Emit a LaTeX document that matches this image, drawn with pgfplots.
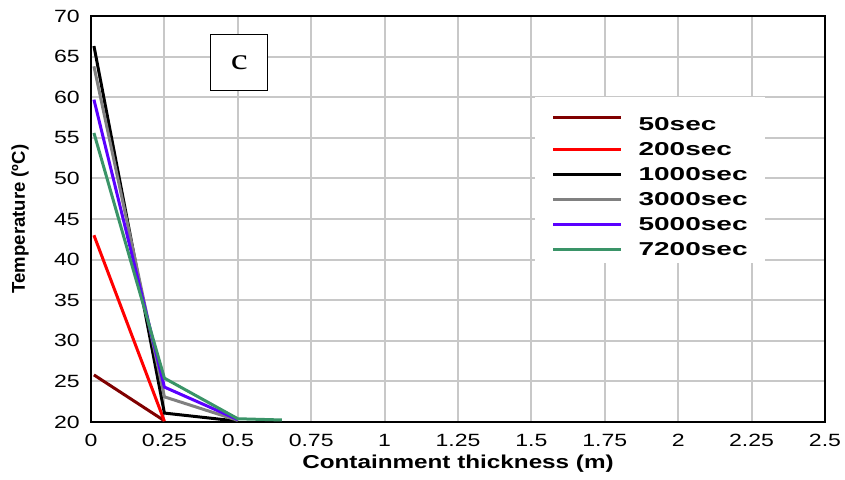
\documentclass[border=0pt]{standalone}
\usepackage{pgfplots}
\pgfplotsset{compat=1.18}
\usepackage{fontspec}
\setmainfont[FakeStretch=1.3]{Liberation Sans}
\newfontfamily\legfont[FakeStretch=1.5]{Liberation Sans}
\newfontfamily\ylabfont{Liberation Sans}
\newfontfamily\serfont[FakeStretch=1.3]{Liberation Serif}
\definecolor{cDarkRed}{HTML}{800000}
\definecolor{cRed}{HTML}{FF0000}
\definecolor{cGray}{HTML}{808080}
\definecolor{cViolet}{HTML}{5A00FF}
\definecolor{cGreen}{HTML}{3A9468}
\definecolor{cGrid}{HTML}{C8C8C8}
\begin{document}
\begin{tikzpicture}
\begin{axis}[
  at={(0,0)}, anchor=south west,
  scale only axis, width=550.5pt, height=304.5pt,
  xmin=0, xmax=2.5, ymin=20, ymax=70,
  xtick={0,0.25,0.5,0.75,1,1.25,1.5,1.75,2,2.25,2.5},
  xticklabels={0,0.25,0.5,0.75,1,1.25,1.5,1.75,2,2.25,2.5},
  ytick={20,25,30,35,40,45,50,55,60,65,70},
  yticklabels={20,25,30,35,40,45,50,55,60,65,70},
  /pgf/number format/assume math mode=true,
  grid=major,
  grid style={line width=1.5pt, color=cGrid},
  axis line style={line width=2pt, black},
  major tick length=0pt,
  tick style={draw=none},
  ticklabel style={font=\fontsize{13.3}{15}\selectfont},
  xticklabel style={inner sep=0pt, anchor=north, yshift=-9pt},
  yticklabel style={inner sep=0pt, anchor=east, xshift=-8.25pt},
  every axis x label/.style={at={(axis description cs:0.5,0)}, anchor=center, yshift=-31.5pt, font=\bfseries\fontsize{14}{16}\selectfont},
  every axis y label/.style={at={(axis description cs:0,0.5)}, anchor=center, xshift=-53.25pt, rotate=90, font=\ylabfont\bfseries\fontsize{13.9}{16}\selectfont},
  xlabel={Containment thickness (m)},
  ylabel={Temperature (ºC)},
  legend cell align=left,
  legend image code/.code={\draw[#1] (0pt,0pt) -- (51pt,0pt);},
  legend style={at={(axis cs:1.51,60)}, anchor=north west, fill=white, draw=none,
    inner xsep=12.75pt, inner ysep=4.5pt, row sep=7.5pt,
    font=\legfont\bfseries\fontsize{14}{16}\selectfont,
    nodes={inner sep=0pt},
    /tikz/every odd column/.append style={column sep=12pt}},
  every axis plot/.append style={line width=2.25pt},
]
\addplot[cDarkRed] coordinates {(0.01,25.8) (0.248,20.2)};
\addlegendentry{\rule{0pt}{20pt}50sec}
\addplot[cRed] coordinates {(0.01,43.0) (0.25,20.1)};
\addlegendentry{200sec}
\addplot[black] coordinates {(0.01,66.3) (0.25,21.1) (0.5,20.1)};
\addlegendentry{1000sec}
\addplot[cGray] coordinates {(0.01,63.8) (0.25,23.1) (0.5,20.2)};
\addlegendentry{3000sec}
\addplot[cViolet] coordinates {(0.01,59.7) (0.25,24.3) (0.5,20.3)};
\addlegendentry{5000sec}
\addplot[cGreen] coordinates {(0.01,55.6) (0.25,25.4) (0.5,20.4) (0.65,20.25)};
\addlegendentry{7200sec}
\node[draw=black, line width=0.75pt, fill=white, minimum width=42.75pt, minimum height=42pt, inner sep=0pt, font=\serfont\fontsize{22}{24}\selectfont] at (axis cs:0.505,64.3) {c};
\end{axis}
\pgfresetboundingbox
\useasboundingbox (-68.25pt,-42.75pt) rectangle (565.5pt,316.5pt);
\end{tikzpicture}
\end{document}
